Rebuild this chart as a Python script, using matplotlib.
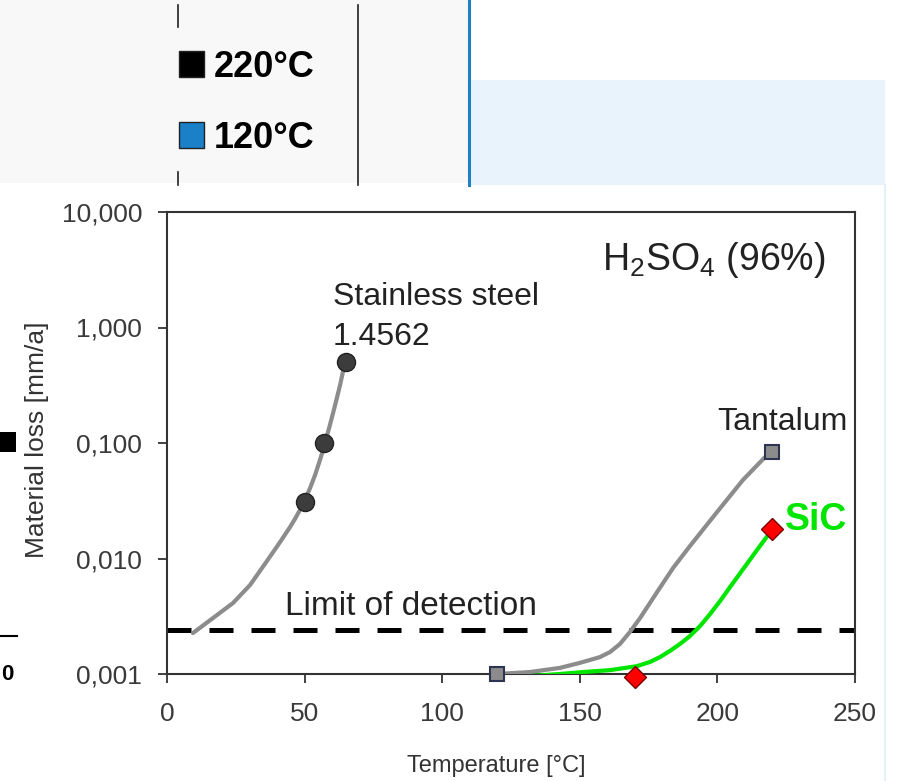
"""material loss vs temperature in H2SO4 (96%), log scale"""

import matplotlib.pyplot as plt
from matplotlib.patches import Rectangle

plt.rcParams['font.family'] = ['Liberation Sans', 'DejaVu Sans']
plt.rcParams['mathtext.fontset'] = 'custom'
plt.rcParams['mathtext.rm'] = 'Liberation Sans'
plt.rcParams['mathtext.it'] = 'Liberation Sans:italic'
plt.rcParams['mathtext.bf'] = 'Liberation Sans:bold'

# measured points
steel_t = [50, 57, 65]
steel_loss = [0.031, 0.1, 0.5]
tantalum_t = [120, 220]
tantalum_loss = [0.001, 0.084]
sic_t = [170, 220]
sic_loss = [0.00095, 0.018]

# trend lines
steel_fit_t = [9.4, 16.7, 24.0, 30.2, 36.3, 41.1, 44.7, 46.5, 48.3, 50.1,
               52.0, 53.8, 55.6, 57.4, 59.2, 61.0, 62.9, 64.7]
steel_fit_loss = [0.00226, 0.00305, 0.00412, 0.0059, 0.0095, 0.0139, 0.0187, 0.022, 0.0263, 0.0321,
                  0.0408, 0.0528, 0.0713, 0.1, 0.143, 0.209, 0.318, 0.503]
tantalum_fit_t = [120, 131.9, 142.8, 150.1, 157.3, 161.0, 164.6, 168.2, 171.9, 178.1,
                  183.9, 190.0, 199.9, 209.3, 219.1]
tantalum_fit_loss = [0.001, 0.00104, 0.00113, 0.00125, 0.0014, 0.00155, 0.00182, 0.00231, 0.00305, 0.00513,
                     0.00828, 0.0128, 0.0253, 0.0479, 0.0836]
sic_fit_t = [120, 131.9, 142.8, 151.2, 161.0, 170.8, 175.5, 179.1, 182.7, 186.4,
             190.0, 193.7, 197.3, 201.0, 204.6, 208.3, 214.4, 219.8]
sic_fit_loss = [0.00094, 0.00096, 0.001, 0.00104, 0.00108, 0.00117, 0.00127, 0.0014, 0.00158, 0.00182,
                0.00213, 0.0026, 0.0033, 0.00429, 0.00566, 0.00748, 0.01185, 0.01766]

detection_limit = 0.0024

x_ticks = [0, 50, 100, 150, 200, 250]
y_ticks = [0.001, 0.01, 0.1, 1, 10]
y_tick_labels = ['0,001', '0,010', '0,100', '1,000', '10,000']

# fragments of the neighbouring chart in the screenshot
legend_labels = ['220°C', '120°C']
legend_colors = ['black', '#1a80c8']


def draw_fragments(fig):
    # background layer in pixel coordinates
    bg = fig.add_axes([0, 0, 1, 1], zorder=0)
    bg.set_xlim(0, 899)
    bg.set_ylim(781, 0)
    bg.axis('off')

    bg.add_patch(Rectangle((0, 0), 468, 183, color='#f8f8f8', lw=0))
    bg.add_patch(Rectangle((471, 80), 414, 105, color='#e9f3fb', lw=0))
    bg.plot([178, 178], [5, 27], color='#222', lw=1.2)
    bg.plot([178, 178], [172, 185], color='#222', lw=1.2)
    bg.plot([358, 358], [5, 185], color='#222', lw=1.2)
    bg.plot([469, 469], [0, 185], color='#1f80c6', lw=2.2)
    bg.plot([885, 885], [185, 781], color='#e6f0f9', lw=1.5)

    for i, (lab, col) in enumerate(zip(legend_labels, legend_colors)):
        base = 77 + 71 * i
        bg.add_patch(Rectangle((179, base - 26), 25, 26, fc=col, ec='#222', lw=1))
        bg.text(214, base, lab, fontsize=26, fontweight='bold', va='baseline', ha='left')

    bg.add_patch(Rectangle((0, 432), 16, 20, color='black', lw=0))
    bg.plot([0, 17], [636, 636], color='black', lw=1.5)
    bg.text(1, 680, '0', fontsize=16, fontweight='bold', ha='left', va='baseline')


def plot_chart():
    fig = plt.figure(figsize=(8.99, 7.81), dpi=100)
    draw_fragments(fig)

    ax = fig.add_axes([167 / 899, 1 - 674 / 781, 688 / 899, 462 / 781], zorder=1)
    ax.set_yscale('log')

    ax.axhline(detection_limit, color='black', lw=3.6, dashes=(4.8, 3.6), zorder=2)

    ax.plot(steel_fit_t, steel_fit_loss, color='#8c8c8c', lw=3, solid_capstyle='round',
            solid_joinstyle='round', zorder=3)
    ax.plot(tantalum_fit_t, tantalum_fit_loss, color='#8c8c8c', lw=3, solid_capstyle='round',
            solid_joinstyle='round', zorder=3)
    ax.plot(sic_fit_t, sic_fit_loss, color='#00e600', lw=3, solid_capstyle='round',
            solid_joinstyle='round', zorder=4)

    ax.plot(steel_t, steel_loss, 'o', ms=13, mfc='#3c3c3c', mec='#222', mew=1,
            ls='none', zorder=5, clip_on=False)
    ax.plot(sic_t, sic_loss, 'D', ms=11.5, mfc='#ff0000', mec='#7a0000', mew=1,
            ls='none', zorder=5, clip_on=False)
    ax.plot(tantalum_t, tantalum_loss, 's', ms=10, mfc='#8c8c8c', mec='#2d3550', mew=1.5,
            ls='none', zorder=6, clip_on=False)

    ax.set_xlim(0, 250)
    ax.set_ylim(0.001, 10)
    ax.set_xticks(x_ticks)
    ax.set_yticks(y_ticks, y_tick_labels)
    ax.minorticks_off()

    ax.tick_params(direction='out', length=6.5, width=1.3, color='#333',
                   labelsize=19, labelcolor='#3a3a3a')
    ax.tick_params(axis='y', pad=11.5)
    ax.tick_params(axis='x', pad=14)
    for sp in ax.spines.values():
        sp.set_color('#333')
        sp.set_linewidth(1.5)

    # annotations
    ax.text(60.3, 1.57, 'Stainless steel', fontsize=23, color='#222', va='baseline')
    ax.text(60.3, 0.70, '1.4562', fontsize=23, color='#222', va='baseline')
    ax.text(158, 3.15, r'H$_2$SO$_4$ (96%)', fontsize=27, color='#222', va='baseline')
    ax.text(247.5, 0.13, 'Tantalum', fontsize=23, color='#222', va='baseline', ha='right')
    ax.text(224.6, 0.0177, 'SiC', fontsize=27, color='#00e600', fontweight='bold', va='baseline')
    ax.text(42.9, 0.00324, 'Limit of detection', fontsize=24, color='#222', va='baseline')

    ax.set_ylabel('Material loss [mm/a]', fontsize=19, color='#333')
    ax.yaxis.set_label_coords((37 - 167) / 688, (674 - 440) / 462)
    ax.yaxis.label.set_va('center')
    ax.set_xlabel('Temperature [°C]', fontsize=17, color='#333')
    ax.xaxis.set_label_coords((496 - 167) / 688, (674 - 766) / 462)
    ax.xaxis.label.set_va('center')

    fig.savefig('out.png', dpi=100)


if __name__ == "__main__":
    plot_chart()
